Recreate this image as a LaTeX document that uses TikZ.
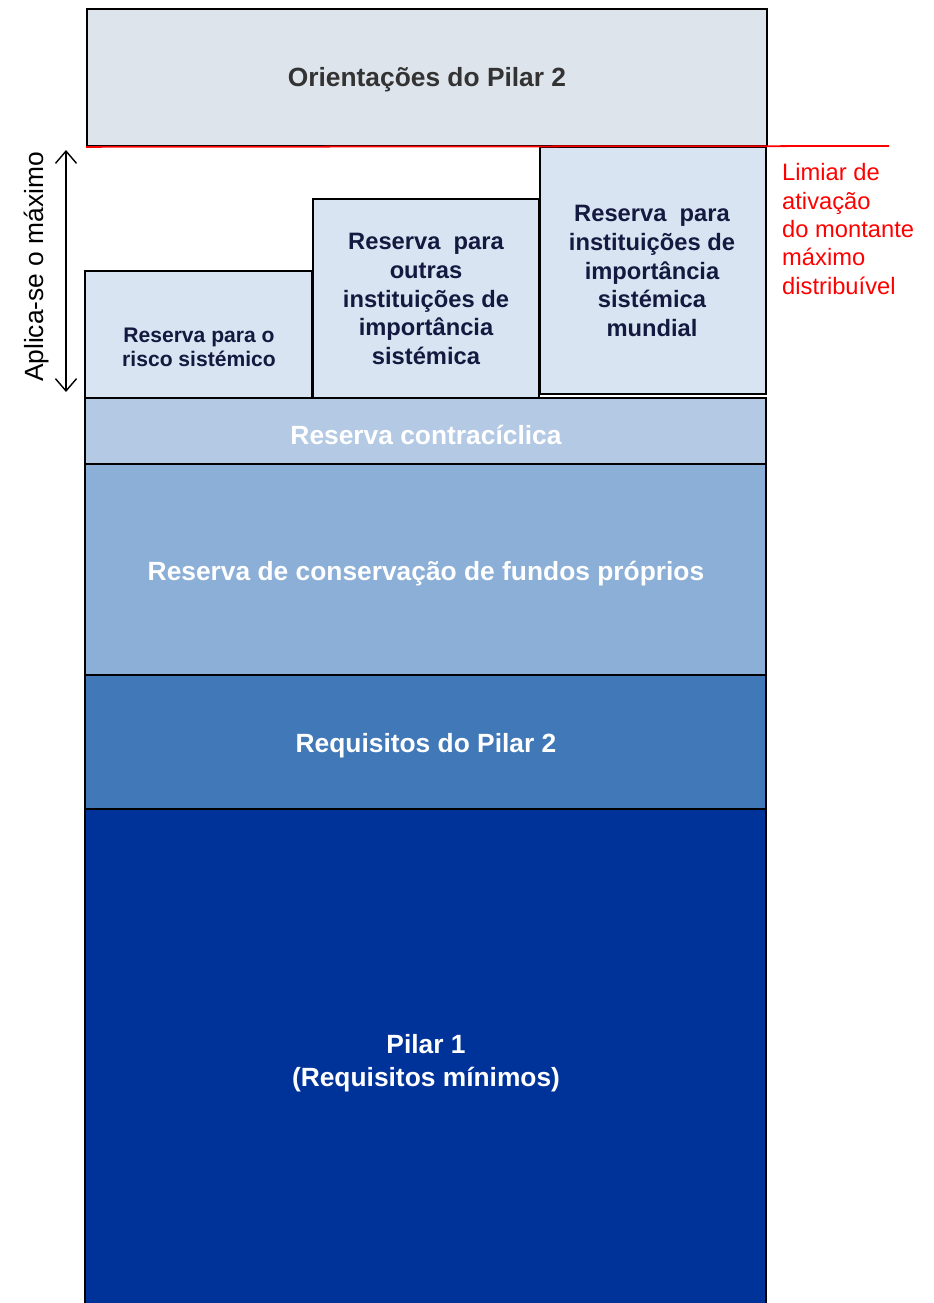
\documentclass[tikz,border=0pt]{standalone}
\usepackage{fontspec}
\setmainfont{Liberation Sans}
\usetikzlibrary{arrows.meta,fit}
\definecolor{topfill}{HTML}{DEE4EC}
\definecolor{resfill}{HTML}{D9E4F2}
\definecolor{ccfill}{HTML}{B3C9E4}
\definecolor{consfill}{HTML}{8BAFD6}
\definecolor{ptwofill}{HTML}{4178B8}
\definecolor{ponefill}{HTML}{003399}
\definecolor{navytext}{HTML}{14193F}
\definecolor{graytext}{HTML}{333333}
\definecolor{redline}{HTML}{FF0000}
\tikzset{
  blk/.style={draw=black, line width=1pt, inner sep=0pt},
  navylbl/.style={font=\bfseries\fontsize{13.5}{16.3}\selectfont, text=navytext, align=center},
  whitelbl/.style={font=\bfseries\fontsize{15}{18.7}\selectfont, text=white, align=center},
  redlbl/.style={font=\fontsize{13.5}{16.2}\selectfont, text=redline, align=left},
}
\begin{document}
\begin{tikzpicture}[x=0.02cm,y=-0.02cm]
\useasboundingbox (0,0) rectangle (934,1303);
\clip (0,0) rectangle (934,1303);
% stacked boxes
\node[blk, fill=ponefill, fit={(85,809) (766,1320)}] (pone) {};
\node[blk, fill=ptwofill, fit={(85,675) (766,809)}] (ptwo) {};
\node[blk, fill=consfill, fit={(85,464) (766,675)}] (cons) {};
\node[blk, fill=ccfill, fit={(85,398) (766,464)}] (ccyb) {};
\node[blk, fill=resfill, fit={(85,271) (312,398)}] (srb) {};
\node[blk, fill=resfill, fit={(313,199) (539,398)}] (osii) {};
\node[blk, fill=resfill, fit={(540,147) (766,394)}] (gsii) {};
\node[blk, fill=topfill, fit={(87,9) (767,146)}] (top) {};
% labels
\node[font=\bfseries\fontsize{15}{18}\selectfont, text=graytext] (toplbl) at (427,80) {Orientações do Pilar 2};
\node[navylbl, font=\bfseries\fontsize{12}{13.6}\selectfont] (srblbl) at (199,347) {Reserva para o\\risco sistémico};
\node[navylbl] (osiilbl) at (426,299) {Reserva~ para\\outras\\instituições de\\importância\\sistémica};
\node[navylbl] (gsiilbl) at (652,271) {Reserva~ para\\instituições de\\importância\\sistémica\\mundial};
\node[whitelbl] (ccyblbl) at (426,435) {Reserva contracíclica};
\node[whitelbl] (conslbl) at (426,574) {Reserva de conservação de fundos próprios};
\node[whitelbl] (ptwolbl) at (426,746) {Requisitos do Pilar 2};
\node[whitelbl] (ponelbl) at (426,1063) {Pilar 1\\(Requisitos mínimos)};
% red threshold line
\coordinate (redend) at (889,146);
\draw[redline, line width=1pt] (top.south west) -- (redend);
\node[redlbl, anchor=west] (redtxt) at (776,229) {Limiar de\\ativação\\do montante\\máximo\\distribuível};
% double arrow
\coordinate (atop) at (66,150);
\coordinate (abot) at (66,392);
\draw[line width=0.8pt, {Straight Barb[length=7pt,width=12pt]}-{Straight Barb[length=7pt,width=12pt]}] (atop) -- (abot);
\node[rotate=90, font=\fontsize{15}{18}\selectfont] (applbl) at (37,267) {Aplica-se o máximo};
\end{tikzpicture}
\end{document}
